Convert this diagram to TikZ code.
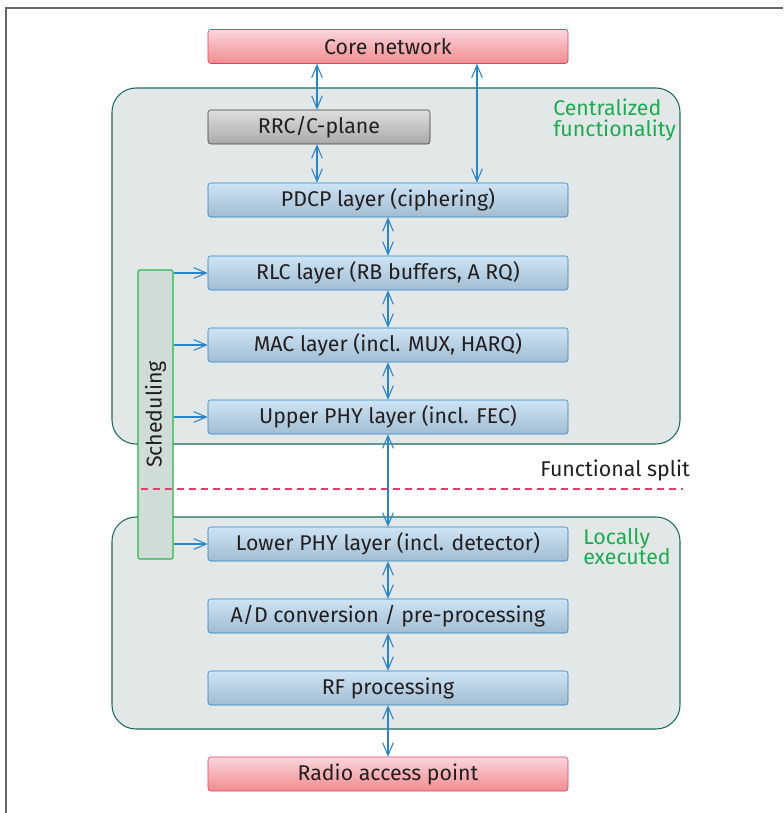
\documentclass[tikz,border=0pt]{standalone}
\usepackage{fontspec}
\setmainfont{Fira Sans}
\usepackage{tikz}
\usepackage{xcolor}
\usetikzlibrary{arrows.meta}

\definecolor{boxline}{HTML}{2A7FC0}
\definecolor{boxtop}{HTML}{CDE4F5}
\definecolor{boxbot}{HTML}{A3BCD0}
\definecolor{pinkline}{HTML}{E0406A}
\definecolor{pinktop}{HTML}{F9D6DC}
\definecolor{pinkbot}{HTML}{F28C8E}
\definecolor{grayline}{HTML}{3A3A3A}
\definecolor{graytop}{HTML}{DEDEDE}
\definecolor{graybot}{HTML}{A9A9A9}
\definecolor{zonefill}{HTML}{E2E8E8}
\definecolor{zoneline}{HTML}{1F6B60}
\definecolor{zonetext}{HTML}{1DAA4E}
\definecolor{schedfill}{HTML}{D0DCD8}
\definecolor{schedline}{HTML}{2DB34A}
\definecolor{arrowblue}{HTML}{2A84C6}
\definecolor{textdark}{HTML}{231F20}

\tikzset{
  layer/.style={draw=boxline, top color=boxtop, bottom color=boxbot, rounded corners=2pt,
    minimum width=270pt, minimum height=25.5pt, inner sep=0pt, text=textdark,
    font=\fontsize{16}{16}\selectfont},
  endpoint/.style={layer, draw=pinkline, top color=pinktop, bottom color=pinkbot},
  ctrl/.style={layer, draw=grayline, top color=graytop, bottom color=graybot, minimum width=166.5pt},
  zone/.style={draw=zoneline, fill=zonefill, line width=0.8pt, rounded corners=18pt},
  zonelabel/.style={text=zonetext, align=left, anchor=north west, inner sep=0pt,
    font=\fontsize{16}{15.5}\selectfont},
  link/.style={draw=arrowblue, line width=0.8pt, {Straight Barb[length=9.5pt,width=8pt]}-{Straight Barb[length=9.5pt,width=8pt]}},
  feed/.style={draw=arrowblue, line width=0.8pt, -{Straight Barb[length=9.5pt,width=8pt]}}
}

\begin{document}
\begin{tikzpicture}[x=0.75pt,y=-0.75pt]
\useasboundingbox (0,0) rectangle (783,813);
\draw[gray!80!black, line width=1pt] (6,813) -- (6,8) -- (783,8);
\draw[zone] (112,88) rectangle (680,444);
\draw[zone] (112,517) rectangle (680,729);
\node[endpoint] (core) at (388,46.5) {Core network};
\node[ctrl] (rrc) at (319,127) {RRC/C-plane};
\node[layer] (pdcp) at (388,200) {PDCP layer (ciphering)};
\node[layer] (rlc) at (388,273) {RLC layer (RB buffers, A RQ)};
\node[layer] (mac) at (388,345) {MAC layer (incl. MUX, HARQ)};
\node[layer] (uphy) at (388,417) {Upper PHY layer (incl. FEC)};
\node[layer] (lphy) at (388,544) {Lower PHY layer (incl. detector)};
\node[layer] (adc) at (388,616) {A/D conversion / pre-processing};
\node[layer] (rf) at (388,688) {RF processing};
\node[endpoint] (rap) at (388,774) {Radio access point};
\node[zonelabel] (central) at (553,99) {Centralized\\functionality};
\node[zonelabel] (local) at (583,528) {Locally\\executed};
\node[draw=schedline, fill=schedfill, line width=0.8pt, rounded corners=1.5pt, rotate=90,
  minimum width=216.75pt, minimum height=26.25pt, inner sep=0pt, text=textdark,
  font=\fontsize{16}{16}\selectfont] (sched) at (155.5,414.5) {Scheduling};
\node[anchor=east, inner sep=0pt, text=textdark, font=\fontsize{16}{16}\selectfont] (split) at (690,470) {Functional split};
\draw[pinkline, line width=0.8pt, dash pattern=on 5pt off 4pt] (141,489) -- (683,489);
\coordinate (user) at (477,0);
\draw[link] (core.south -| 317,0) -- (rrc.north -| 317,0);
\draw[link] (rrc.south -| 317,0) -- (pdcp.north -| 317,0);
\draw[link] (core.south -| user) -- (pdcp.north -| user);
\draw[link] (pdcp) -- (rlc);
\draw[link] (rlc) -- (mac);
\draw[link] (mac) -- (uphy);
\draw[link] (uphy) -- (lphy);
\draw[link] (lphy) -- (adc);
\draw[link] (adc) -- (rf);
\draw[link] (rf) -- (rap);
\draw[feed] (sched.south |- rlc.west) -- (rlc.west);
\draw[feed] (sched.south |- mac.west) -- (mac.west);
\draw[feed] (sched.south |- uphy.west) -- (uphy.west);
\draw[feed] (sched.south |- lphy.west) -- (lphy.west);
\end{tikzpicture}
\end{document}
